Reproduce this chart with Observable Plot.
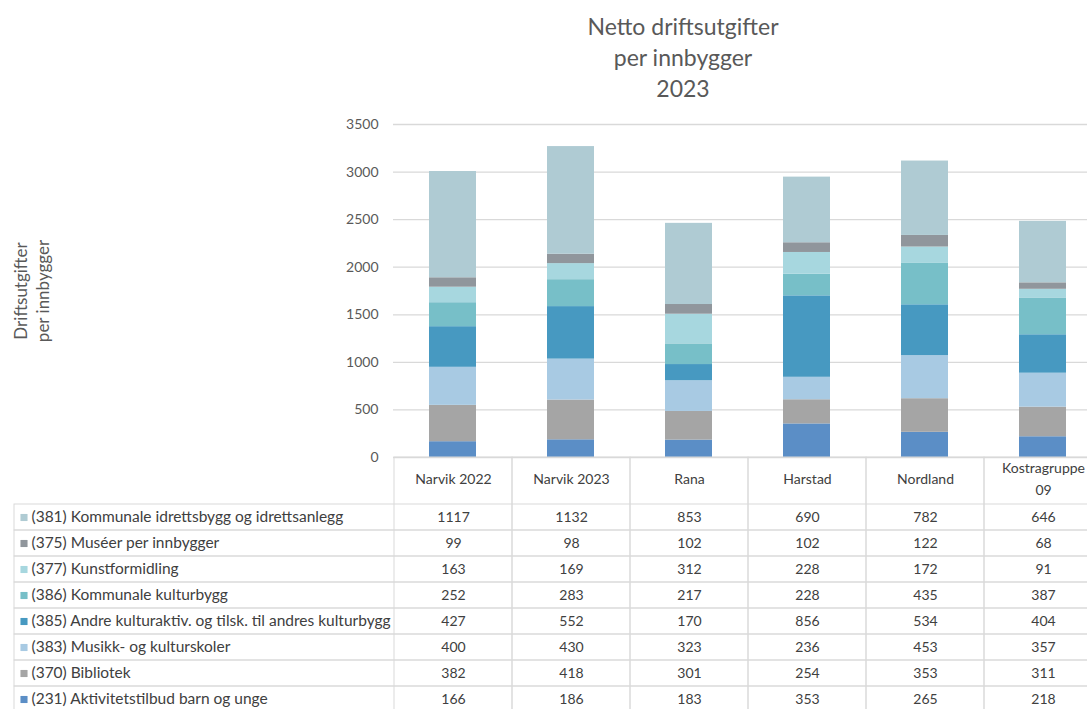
<!DOCTYPE html>
<html><head><meta charset="utf-8">
<script src="https://cdn.jsdelivr.net/npm/d3@7"></script>
<script src="https://cdn.jsdelivr.net/npm/@observablehq/plot@0.6"></script>
<style>
html,body{margin:0;padding:0;background:#fff;overflow:hidden;width:1087px;height:709px;}
#wrap{position:relative;width:1087px;height:709px;overflow:hidden;font-family:Lato,sans-serif;}
#title{position:absolute;left:483px;width:400px;top:11px;text-align:center;font-size:23px;line-height:31px;color:#595959;}
#chart,#table{position:absolute;left:0;}
#chart{top:0}
#table{top:457px}
svg{max-width:none !important;}
</style></head>
<body><div id="wrap"><div id="title">Netto driftsutgifter<br>per innbygger<br>2023</div><div id="chart"></div><div id="table"></div></div>
<script>
const categories = ["Narvik 2022", "Narvik 2023", "Rana", "Harstad", "Nordland", "Kostragruppe 09"];
const headerLabels = ["Narvik 2022", "Narvik 2023", "Rana", "Harstad", "Nordland", "Kostragruppe\n09"];
const yTicks = [0, 500, 1000, 1500, 2000, 2500, 3000, 3500];
const yTitle = "Driftsutgifter\nper innbygger";

// table order (top to bottom)
const seriesLabels = [
  "(381) Kommunale idrettsbygg og idrettsanlegg",
  "(375) Muséer per innbygger",
  "(377) Kunstformidling",
  "(386) Kommunale kulturbygg",
  "(385) Andre kulturaktiv. og tilsk. til andres kulturbygg",
  "(383) Musikk- og kulturskoler",
  "(370) Bibliotek",
  "(231) Aktivitetstilbud barn og unge"
];
const seriesColors = ["#afcbd3", "#90969c", "#a7d7df", "#77bfc8", "#4799c1", "#a8cae3", "#a5a5a5", "#5b8ec6"];

const v381 = [1117, 1132, 853, 690, 782, 646];
const v375 = [99, 98, 102, 102, 122, 68];
const v377 = [163, 169, 312, 228, 172, 91];
const v386 = [252, 283, 217, 228, 435, 387];
const v385 = [427, 552, 170, 856, 534, 404];
const v383 = [400, 430, 323, 236, 453, 357];
const v370 = [382, 418, 301, 254, 353, 311];
const v231 = [166, 186, 183, 353, 265, 218];
const seriesValues = [v381, v375, v377, v386, v385, v383, v370, v231];

const tableData = [];
seriesLabels.forEach((s, i) => categories.forEach((c, j) => tableData.push({series: s, category: c, value: seriesValues[i][j]})));
// stack from bottom: (231) first ... (381) last
const stackData = [];
for (let i = seriesLabels.length - 1; i >= 0; i--) {
  categories.forEach((c, j) => stackData.push({series: seriesLabels[i], category: c, value: seriesValues[i][j]}));
}

const chart = Plot.plot({
  width: 1102, height: 470,
  marginTop: 124, marginBottom: 13, marginLeft: 393, marginRight: 0,
  style: {fontFamily: "Lato, sans-serif", fontSize: "14px", color: "#595959", background: "transparent", overflow: "visible"},
  x: {domain: categories, paddingInner: 0.6, paddingOuter: 0.3, axis: null},
  y: {domain: [0, 3500], axis: null},
  color: {domain: seriesLabels, range: seriesColors},
  marks: [
    Plot.ruleY(yTicks, {stroke: "#d9d9d9", strokeWidth: 1.3}),
    Plot.barY(stackData, {x: "category", y: "value", fill: "series"}),
    Plot.axisY({ticks: yTicks, tickSize: 0, tickPadding: 15, tickFormat: "d", fontSize: 14, label: null}),
    Plot.text([yTitle], {frameAnchor: "left", dx: -363, rotate: -90, textAnchor: "middle", lineAnchor: "middle", lineHeight: 1.3, fontSize: 17, fill: "#595959"})
  ]
});
document.getElementById("chart").appendChild(chart);

const table = Plot.plot({
  width: 1102, height: 262,
  marginTop: 0, marginBottom: 0, marginRight: 0, marginLeft: 14,
  style: {fontFamily: "Lato, sans-serif", fontSize: "14px", color: "#404040", background: "transparent", overflow: "visible"},
  x: {type: "band", domain: categories, range: [393, 1102], padding: 0, axis: null},
  y: {type: "band", domain: seriesLabels, range: [45, 45 + 8 * 26.6], padding: 0, axis: null},
  color: {domain: seriesLabels, range: seriesColors},
  marks: [
    Plot.cell(categories, {x: d => d, stroke: "#d9d9d9", fill: "none"}),
    Plot.cell(seriesLabels, {y: d => d, stroke: "#d9d9d9", fill: "none"}),
    Plot.text(categories, {x: d => d, text: (d, i) => headerLabels[i], frameAnchor: "top", dy: 19.5, lineAnchor: "middle", lineHeight: 1.57, fill: "#404040"}),
    Plot.text(tableData, {x: "category", y: "series", text: d => String(d.value), fill: "#404040"}),
    Plot.dot(seriesLabels, {y: d => d, frameAnchor: "left", dx: 9.5, symbol: "square", r: 4, fill: d => d}),
    Plot.text(seriesLabels, {y: d => d, frameAnchor: "left", dx: 17, textAnchor: "start", text: d => d, fontSize: 15.5, fill: "#404040"})
  ]
});
document.getElementById("table").appendChild(table);
</script>
</body></html>
